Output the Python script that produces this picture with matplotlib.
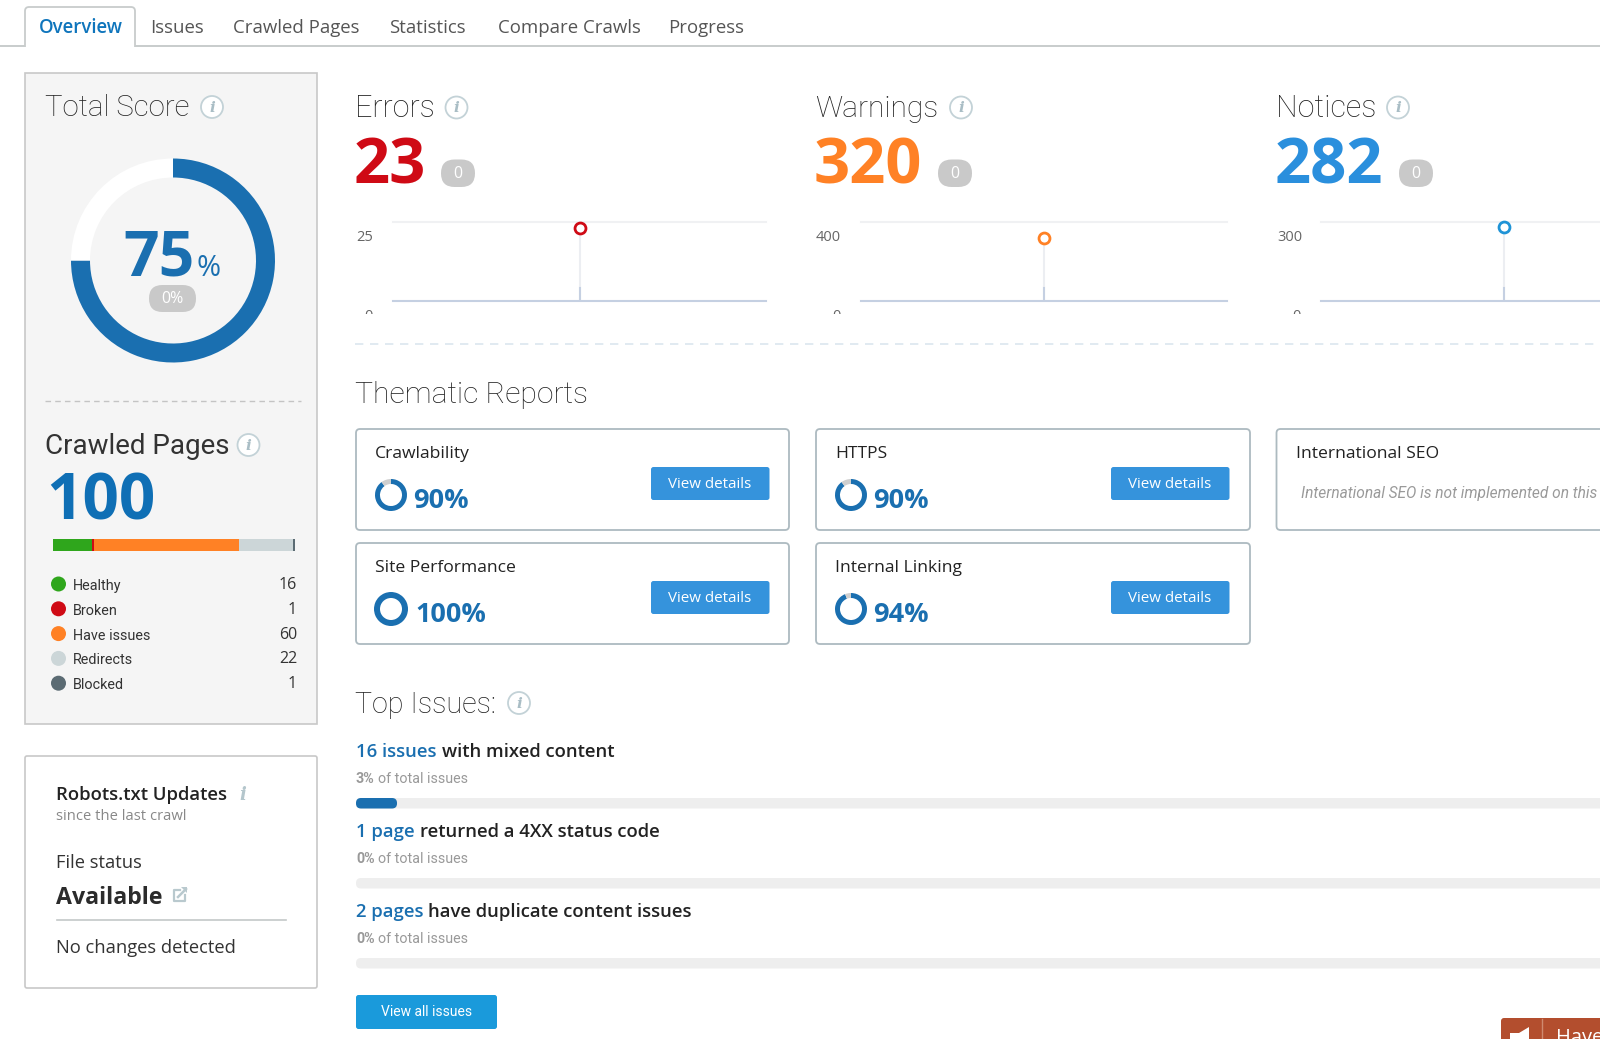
import matplotlib
matplotlib.use("Agg")
from matplotlib import pyplot as plt
from matplotlib.patches import FancyBboxPatch, Circle, Rectangle, Polygon

# chart values
tabs = ["Overview", "Issues", "Crawled Pages", "Statistics", "Compare Crawls", "Progress"]
total_score = 75
score_delta = "0%"
crawled_total = 100
page_types = ["Healthy", "Broken", "Have issues", "Redirects", "Blocked"]
page_counts = [16, 1, 60, 22, 1]
metric_names = ["Errors", "Warnings", "Notices"]
metric_values = [23, 320, 282]
metric_deltas = [0, 0, 0]
metric_tops = [25, 400, 300]
report_names = ["Crawlability", "HTTPS", "Site Performance", "Internal Linking"]
report_scores = [90, 90, 100, 94]
issue_counts = ["16 issues", "1 page", "2 pages"]
issue_texts = ["with mixed content", "returned a 4XX status code", "have duplicate content issues"]
issue_shares = [3, 0, 0]

W, H = 1600, 1039
BLUE = "#1a6fb0"
GREEN, RED, ORANGE, LIGHT, SLATE = "#2fa61c", "#cf0a15", "#ff8125", "#ccd6d8", "#5b6b73"
page_colors = [GREEN, RED, ORANGE, LIGHT, SLATE]
metric_colors = [RED, ORANGE, "#2a8fdd"]
ring_colors = [RED, ORANGE, "#1f93d6"]
BODY = "Open Sans"
NARROW = "Roboto"

fig = plt.figure(figsize=(W / 100, H / 100), dpi=100, facecolor="white")
ax = fig.add_axes([0, 0, 1, 1])
ax.set_xlim(0, W)
ax.set_ylim(H, 0)
ax.axis("off")


def inset(x0, y0, x1, y1):
    a = fig.add_axes([x0 / W, 1 - y1 / H, (x1 - x0) / W, (y1 - y0) / H])
    a.patch.set_alpha(0)
    a.axis("off")
    return a


def txt(x, y, s, size, color="#222222", family=BODY, weight="normal", ha="left", va="baseline", **kw):
    return ax.text(x, y, s, fontsize=size, color=color, family=family, weight=weight, ha=ha, va=va, **kw)


def box(x0, y0, x1, y1, face, edge="none", lw=1.5, r=3, z=1):
    p = FancyBboxPatch((x0 + r, y0 + r), x1 - x0 - 2 * r, y1 - y0 - 2 * r,
                       boxstyle=f"round,pad={r},rounding_size={r}",
                       fc=face, ec=edge, lw=lw, zorder=z)
    ax.add_patch(p)
    return p


def pill(x0, y0, x1, y1, label, size=11.5):
    box(x0, y0, x1, y1, "#c9c9c9", r=(y1 - y0) / 2 - 0.1, z=2)
    txt((x0 + x1) / 2, (y0 + y1) / 2 + 0.5, label, size, "white", ha="center", va="center", zorder=3)


def info(x, y, r=11):
    ax.add_patch(Circle((x, y), r, fc="white", ec="#c3d2d7", lw=1.3, zorder=3))
    txt(x, y + 0.5, "i", r * 1.0, "#a9bdc5", family="DejaVu Serif", style="italic", weight="bold",
        ha="center", va="center", zorder=4)


def donut(cx, cy, r, hole, values, colors):
    a = inset(cx - r, cy - r, cx + r, cy + r)
    a.pie(values, colors=colors, startangle=90, counterclock=False, radius=1,
          wedgeprops={"width": 1 - hole / r, "linewidth": 0})
    a.set_xlim(-1, 1)
    a.set_ylim(-1, 1)
    return a


# tabs
ax.plot([0, 1600], [46, 46], color="#c8cccc", lw=1.4, zorder=1)
box(25, 7, 135, 60, "white", "#c8cccc", lw=1.3, r=4, z=2)
ax.add_patch(Rectangle((0, 47), 1600, 16, fc="white", ec="none", zorder=3))
tab_x = [39, 150, 233, 389, 498, 668]
for name, x in zip(tabs, tab_x):
    c = "#0f75bc" if name == "Overview" else "#555555"
    txt(x, 33, name, 13.4, c, weight="semibold" if name == "Overview" else "normal", zorder=4)

# left panel
ax.add_patch(Rectangle((25, 73), 292, 651, fc="#f5f5f5", ec="#c8c8c8", lw=1.2, zorder=1))
txt(45, 116, "Total Score", 21.2, "#222222", family=NARROW, weight="light", zorder=3)
info(212, 107)
donut(173, 260.5, 102, 83, [total_score, 100 - total_score], [BLUE, "white"])
txt(123, 276, str(total_score), 45, BLUE, weight="bold", zorder=3)
txt(196, 276, "%", 21, BLUE, zorder=3)
pill(149, 285, 196, 312, score_delta)
ax.plot([45, 301], [401, 401], color="#c4c4c4", lw=1, ls=(0, (4, 3)), zorder=2)

txt(45, 454, "Crawled Pages", 20, "#333333", family=NARROW, zorder=3)
info(248.5, 445)
txt(46, 520, str(crawled_total), 46, "#0f6fb5", weight="bold", zorder=3)

bar_ax = inset(53, 539, 295, 551)
left = 0
for n, c in zip(page_counts, page_colors):
    bar_ax.barh(0, n, left=left, height=1, color=c, linewidth=0)
    left += n
bar_ax.set_xlim(0, sum(page_counts))
bar_ax.set_ylim(-0.5, 0.5)

for i, (name, n, c) in enumerate(zip(page_types, page_counts, page_colors)):
    y = 584 + i * 24.8
    ax.add_patch(Circle((58.5, y), 7.5, fc=c, ec="none", zorder=3))
    txt(73, y + 6, name, 10.4, "#333333", family=NARROW, zorder=3)
    txt(297, y + 5, str(n), 11.5, "#333333", ha="right", zorder=3)

# robots panel
box(25, 756, 317, 988, "white", "#c8c8c8", lw=1.2, r=2)
txt(56, 800, "Robots.txt Updates", 13.3, "#222222", weight="semibold", zorder=3)
txt(56, 820, "since the last crawl", 10.6, "#888888", zorder=3)
txt(243, 800, "i", 13, "#b4c6cc", family="DejaVu Serif", style="italic", weight="bold", ha="center", zorder=3)
txt(56, 868, "File status", 13.2, "#333333", zorder=3)
txt(56, 904, "Available", 16.7, "#2b2b2b", weight="bold", zorder=3)
ax.plot([180, 174, 174, 185, 185], [890, 890, 901, 901, 895], color="#b9c9ce", lw=1.6, zorder=3)
ax.plot([178, 186], [897, 889], color="#b9c9ce", lw=1.8, zorder=4)
ax.add_patch(Polygon([(181, 887), (187, 887), (187, 893)], fc="#b9c9ce", ec="none", zorder=4))
ax.plot([57, 286], [920, 920], color="#c4c8c8", lw=1.2, zorder=3)
txt(56, 953, "No changes detected", 13.2, "#333333", zorder=3)

# metrics row
metric_x = [355, 815, 1276]
metric_sizes = [22, 21.6, 22]
info_x = [456.5, 961, 1398]
pill_x = [441, 938, 1399]
grid_x = [(393, 766), (861, 1227), (1321, 1687)]
for i, name in enumerate(metric_names):
    x = metric_x[i]
    txt(x, 117, name, metric_sizes[i], "#222222", family=NARROW, weight="light", zorder=3)
    info(info_x[i], 107.5)
    txt(x - 1, 183, str(metric_values[i]), 45.5, metric_colors[i], weight="bold", zorder=3)
    pill(pill_x[i], 159.5, pill_x[i] + 34, 187, str(metric_deltas[i]))
    txt(x + 1, 241, str(metric_tops[i]), 10.5, "#666666", zorder=3)
    zero = txt(grid_x[i][0] - 28.5, 320, "0", 10.5, "#666666", zorder=3)
    zero.set_clip_on(True)
    zero.set_clip_path(Rectangle((0, 0), W, 314, transform=ax.transData))

    g = inset(grid_x[i][0], 222, grid_x[i][1], 301)
    g.set_xlim(0, 2)
    g.set_ylim(0, metric_tops[i])
    g.axhline(metric_tops[i], color="#f0f1f3", lw=1.5, clip_on=False)
    g.axhline(0, color="#c5d0e2", lw=1.5, clip_on=False)
    g.vlines(1, 0, metric_values[i], color="#eceef2", lw=1.5)
    g.plot([1, 1], [0, 0.17], color="#c5d0e2", lw=1.5, transform=g.get_xaxis_transform())
    g.scatter([1], [metric_values[i]], s=62, facecolor="white", edgecolor=ring_colors[i],
              linewidth=2.0, zorder=5, clip_on=False)

ax.plot([355, 1610], [344, 344], color="#dbe6ef", lw=1.2, ls=(0, (5, 4)), zorder=1)

# thematic reports
txt(355, 403, "Thematic Reports", 21.7, "#222222", family=NARROW, weight="light", zorder=3)
card_x = [(356, 789), (816, 1250)]
card_y = [(429, 530), (543, 644)]
for i, (name, score) in enumerate(zip(report_names, report_scores)):
    x0, x1 = card_x[i % 2]
    y0, y1 = card_y[i // 2]
    box(x0, y0, x1, y1, "white", "#adbac0", lw=1.3, r=4)
    txt(x0 + 19, y0 + 29, name, 12.6, "#222222", zorder=3)
    rest = 100 - score
    full = score == 100
    donut(x0 + 35, y0 + 66, 17 if full else 16, 11, [score, rest], [BLUE, "#cfcfcf"])
    txt(x0 + (59 if full else 57), y0 + 79, f"{score}%", 19.5, BLUE, weight="bold", zorder=3)
    box(x0 + 295, y0 + 38, x0 + 413.5, y0 + 71, "#3593dc", r=2.5, z=3)
    txt(x0 + 354, y0 + 55, "View details", 10.9, "white", ha="center", va="center", zorder=4)

box(1276.5, 429, 1680, 530, "white", "#adbac0", lw=1.3, r=4)
txt(1296, 458, "International SEO", 12.6, "#222222", zorder=3)
txt(1301, 498, "International SEO is not implemented on this site", 11.2, "#9a9a9a",
    family=NARROW, style="italic", zorder=3)

# top issues
txt(355, 713, "Top Issues:", 20.6, "#222222", family=NARROW, weight="light", zorder=3)
info(519, 703)
bars_ax = inset(356, 798, 1723, 968)
bars_ax.set_xlim(0, 100)
issue_y = [(757, 783, 798), (837, 863, 878), (917, 943, 958)]
renderer = fig.canvas.get_renderer()
for i in range(3):
    y1, y2, y3 = issue_y[i]
    t = txt(356, y1, issue_counts[i], 13.3, "#1a6fb0", weight="semibold", zorder=3)
    e = t.get_window_extent(renderer)
    txt(e.x1 + 5, y1, issue_texts[i], 13.3, "#222222", weight="semibold", zorder=3)
    t = txt(356, y2, f"{issue_shares[i]}%", 10.3, "#999999", family=NARROW, weight="bold", zorder=3)
    e = t.get_window_extent(renderer)
    txt(e.x1 + 3, y2, "of total issues", 10.3, "#999999", family=NARROW, zorder=3)
    box(356, y3, 1723, y3 + 10.5, "#eeeeee", r=5, z=2)
    if issue_shares[i] > 0:
        end = ax.transData.inverted().transform(bars_ax.transData.transform((issue_shares[i], 0)))[0]
        box(356, y3, end, y3 + 10.5, BLUE, r=5, z=3)

box(356, 995, 497, 1029, "#1a9adb", r=2.5, z=3)
txt(426.5, 1012.5, "View all issues", 10, "white", family=NARROW, ha="center", va="center", zorder=4)

# feedback tab
box(1501, 1018, 1700, 1060, "#b34e2e", r=3, z=3)
ax.plot([1542, 1542], [1019, 1039], color="#cf8a70", lw=1, zorder=4)
ax.add_patch(Polygon([(1510, 1039), (1510, 1033), (1519, 1033), (1529, 1027), (1529, 1039)],
                     fc="white", ec="none", zorder=4))
txt(1556, 1043, "Have a question?", 14.5, "white", zorder=4)

fig.savefig("out.png", dpi=100)
